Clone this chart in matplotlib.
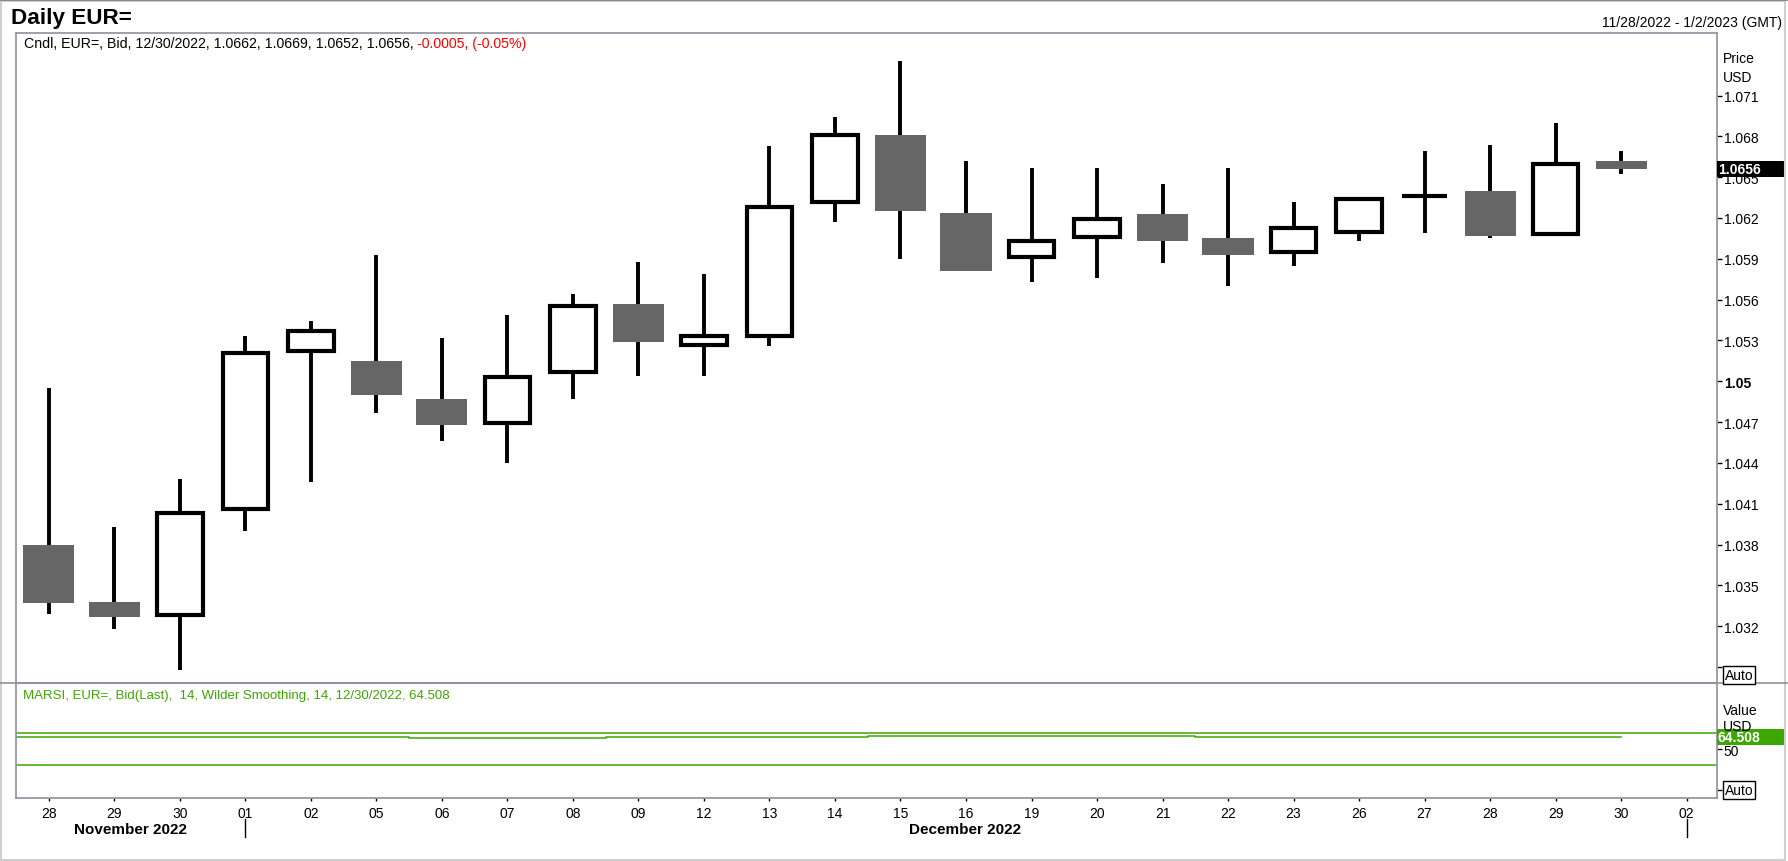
import numpy as np
import matplotlib
matplotlib.use("Agg")
import matplotlib.pyplot as plt
from matplotlib.patches import Rectangle
from matplotlib.lines import Line2D
from matplotlib import transforms

plt.rcParams['font.family'] = ['Liberation Sans', 'DejaVu Sans']

# daily EUR= bid candles, 28 Nov 2022 - 30 Dec 2022
days = ['28', '29', '30', '01', '02', '05', '06', '07', '08', '09', '12', '13', '14',
        '15', '16', '19', '20', '21', '22', '23', '26', '27', '28', '29', '30']
tick_labels = days + ['02']
opens = [1.0380, 1.0338, 1.0328, 1.0406, 1.0522, 1.0515, 1.0487, 1.0469, 1.0507, 1.0557,
         1.0527, 1.0533, 1.0632, 1.0681, 1.0624, 1.0591, 1.0606, 1.0623, 1.0605, 1.0595,
         1.0610, 1.0636, 1.0640, 1.0608, 1.0662]
highs = [1.0495, 1.0393, 1.0428, 1.0533, 1.0544, 1.0593, 1.0532, 1.0549, 1.0564, 1.0588,
         1.0579, 1.0673, 1.0694, 1.0735, 1.0662, 1.0657, 1.0657, 1.0645, 1.0657, 1.0632,
         1.0635, 1.0669, 1.0674, 1.0690, 1.0669]
lows = [1.0329, 1.0318, 1.0288, 1.0390, 1.0426, 1.0477, 1.0456, 1.0440, 1.0487, 1.0504,
        1.0504, 1.0526, 1.0617, 1.0590, 1.0581, 1.0573, 1.0576, 1.0587, 1.0570, 1.0585,
        1.0603, 1.0609, 1.0605, 1.0607, 1.0652]
closes = [1.0337, 1.0327, 1.0403, 1.0521, 1.0537, 1.0490, 1.0468, 1.0503, 1.0555, 1.0529,
          1.0533, 1.0628, 1.0681, 1.0625, 1.0581, 1.0603, 1.0619, 1.0603, 1.0593, 1.0613,
          1.0634, 1.0636, 1.0607, 1.0660, 1.0656]
rsi = [64.6, 64.6, 64.6, 64.6, 64.6, 64.6, 63.4, 63.4, 63.4, 64.6, 64.6, 64.6, 64.6,
       66.0, 66.0, 66.0, 66.0, 66.0, 64.5, 64.5, 64.5, 64.5, 64.5, 64.5, 64.508]
price_ticks = [1.032, 1.035, 1.038, 1.041, 1.044, 1.047, 1.05, 1.053, 1.056, 1.059,
               1.062, 1.065, 1.068, 1.071]
last_price = 1.0656
last_rsi = 64.508

W, H = 1788, 862
GRID = '#9090a0'
GREEN = '#3ea600'
GRAY_BODY = '#666666'


def fx(px):
    return px / W


def fy(py):
    return 1 - py / H


fig = plt.figure(figsize=(W / 100, H / 100), dpi=100)
left, right = 15.5, 1716.7
ax = fig.add_axes([fx(left), fy(684), fx(right) - fx(left), fy(33.5) - fy(684)])
rx = fig.add_axes([fx(left), fy(799), fx(right) - fx(left), fy(684) - fy(799)])

# ---- candles
x = np.arange(len(days))
ax.vlines(x, lows, highs, color='black', lw=2.8, zorder=2)
for i in range(len(days)):
    o, c = opens[i], closes[i]
    if c < o:
        ax.add_patch(Rectangle((i - 0.39, c), 0.78, o - c, fc=GRAY_BODY, ec='none', zorder=3))
    else:
        ax.add_patch(Rectangle((i - 0.35, o), 0.70, c - o, fc='white', ec='black',
                               lw=3.0, zorder=3))

ax.set_xlim(-0.51, 25.46)
ax.set_ylim(1.02783, 1.07563)
ax.yaxis.tick_right()
ax.set_yticks(price_ticks + [1.029])
ax.set_yticklabels([('1.05' if abs(t - 1.05) < 1e-9 else '%.3f' % t) for t in price_ticks] + [''])
for lab, t in zip(ax.get_yticklabels(), price_ticks):
    if abs(t - 1.05) < 1e-9:
        lab.set_fontweight('bold')
        lab.set_fontsize(12.5)
ax.tick_params(axis='y', direction='out', length=3.6, width=1, color='black',
               labelsize=10, pad=1.5)
ax.tick_params(axis='x', bottom=False, labelbottom=False)

# ---- RSI panel
rx.step(np.append(x - 0.5, 24), rsi + [rsi[-1]], where='post', color=GREEN, lw=1.1)
rx.axhline(70, color=GREEN, lw=1.1)
rx.axhline(30, color=GREEN, lw=1.1)
rx.set_xlim(-0.51, 25.46)
rx.set_ylim(-10.4, 131.9)
rx.set_xticks(np.arange(len(tick_labels)))
rx.set_xticklabels(tick_labels)
rx.tick_params(axis='x', direction='out', length=2.5, width=1, color='black',
               labelsize=10, pad=3)
rx.yaxis.tick_right()
rx.set_yticks([0, 50])
rx.set_yticklabels(['', '50'])
rx.tick_params(axis='y', direction='out', length=3.6, width=1, color='black',
               labelsize=10, pad=1.5)

for a in (ax, rx):
    for s in a.spines.values():
        s.set_color(GRID)
        s.set_linewidth(1.2)

# ---- last value boxes on the right axis
bt = transforms.blended_transform_factory(fig.transFigure, ax.transData)
h = 16 / 13.61 * 0.001
ax.add_patch(Rectangle((fx(right), last_price - h / 2), fx(1785) - fx(right), h,
                       transform=bt, fc='black', ec='none', clip_on=False, zorder=10))
ax.text(fx(right + 1), last_price, '%.4f' % last_price, transform=bt, color='white',
        fontsize=10, fontweight='bold', va='center', ha='left', clip_on=False, zorder=11)

rt = transforms.blended_transform_factory(fig.transFigure, rx.transData)
hr = 15.7 / 0.808
rx.add_patch(Rectangle((fx(right), last_rsi - hr / 2 + 0.8), fx(1785) - fx(right), hr,
                       transform=rt, fc=GREEN, ec='none', clip_on=False, zorder=10))
rx.text(fx(right + 1), last_rsi + 0.8, '%.3f' % last_rsi, transform=rt, color='white',
        fontsize=10, fontweight='bold', va='center', ha='left', clip_on=False, zorder=11)

# ---- axis captions
fig.text(fx(1723), fy(63.3), 'Price', fontsize=10, va='baseline')
fig.text(fx(1723), fy(81.7), 'USD', fontsize=10, va='baseline')
fig.text(fx(1723), fy(715), 'Value', fontsize=10, va='baseline')
fig.text(fx(1723), fy(731), 'USD', fontsize=10, va='baseline', zorder=1)
auto_box = dict(boxstyle='square,pad=0.12', fc='white', ec='black', lw=1)
fig.text(fx(1725), fy(676), 'Auto', fontsize=10, va='center', bbox=auto_box)
fig.text(fx(1725), fy(791), 'Auto', fontsize=10, va='center', bbox=auto_box)

# ---- headers
fig.text(fx(10.7), fy(24), 'Daily EUR=', fontsize=16.2, fontweight='bold', va='baseline')
fig.text(fx(1782), fy(26.7), '11/28/2022 - 1/2/2023 (GMT)', fontsize=10,
         ha='right', va='baseline')
hdr = fig.text(fx(23.7), fy(47.7), 'Cndl, EUR=, Bid, 12/30/2022, 1.0662, 1.0669, 1.0652, 1.0656,',
               fontsize=10.2, va='baseline')
renderer = fig.canvas.get_renderer()
bb = hdr.get_window_extent(renderer)
fig.text((bb.x1 + 4) / W, fy(47.7), '-0.0005, (-0.05%)', fontsize=10.2,
         va='baseline', color='#ff0000')
fig.text(fx(23), fy(699), 'MARSI, EUR=, Bid(Last),  14, Wilder Smoothing, 14, 12/30/2022, 64.508',
         fontsize=9.5, va='baseline', color=GREEN)

# ---- month labels and separators
mt = transforms.blended_transform_factory(rx.transData, fig.transFigure)
rx.text(1.24, fy(834), 'November 2022', transform=mt, fontsize=11, fontweight='bold',
        ha='center', va='baseline', clip_on=False)
rx.text(13.98, fy(834), 'December 2022', transform=mt, fontsize=11, fontweight='bold',
        ha='center', va='baseline', clip_on=False)
for pos in (3, 25):
    rx.add_line(Line2D([pos, pos], [fy(820), fy(838)], transform=mt, color='black',
                       lw=1, clip_on=False))

# ---- panel separator and outer frame
fig.add_artist(Line2D([0, 1], [fy(684), fy(684)], color=GRID, lw=1.2))
fig.add_artist(Rectangle((0.0006, 0.0012), 0.998, 0.997, fill=False, ec='#cfcfcf', lw=1.5,
                         transform=fig.transFigure))
fig.add_artist(Line2D([0, 1], [fy(1), fy(1)], color='#8a8a8a', lw=1.5))

fig.savefig('out.png', dpi=100, facecolor='white')
